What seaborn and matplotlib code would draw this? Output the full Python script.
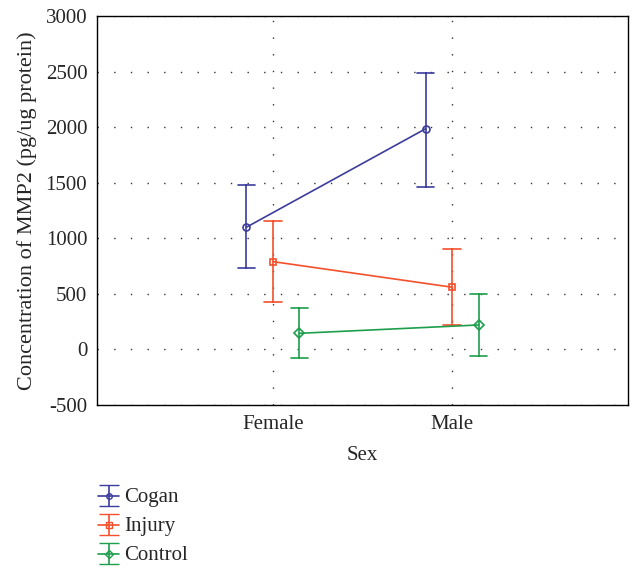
import numpy as np
import pandas as pd
import seaborn as sns
import matplotlib.pyplot as plt

# data
sexes = ['Female', 'Male']
groups = ['Cogan', 'Injury', 'Control']
mean_cogan = [1100, 1985]
low_cogan = [735, 1460]
high_cogan = [1480, 2490]
mean_injury = [790, 560]
low_injury = [430, 220]
high_injury = [1155, 900]
mean_control = [145, 220]
low_control = [-75, -60]
high_control = [375, 500]

colors = ['#3c3c9c', '#f4502c', '#1d9e4c']

# long table: low / mean / high per cell, median -> mean, min-max -> error bar
rows = []
for g, m, lo, hi in [('Cogan', mean_cogan, low_cogan, high_cogan),
                     ('Injury', mean_injury, low_injury, high_injury),
                     ('Control', mean_control, low_control, high_control)]:
    for i, s in enumerate(sexes):
        for v in (lo[i], m[i], hi[i]):
            rows.append({'Sex': s, 'group': g, 'value': v})
df = pd.DataFrame(rows)

sns.set_style('white')
plt.rcParams['font.family'] = ['Liberation Serif', 'DejaVu Serif']
plt.rcParams['axes.unicode_minus'] = False

fig = plt.figure(figsize=(6.34, 5.67), dpi=100)
ax = fig.add_axes([97 / 634, 1 - 405 / 567, 531 / 634, 389 / 567])

sns.pointplot(data=df, x='Sex', y='value', hue='group', hue_order=groups,
              order=sexes, palette=colors, estimator=np.median,
              errorbar=lambda v: (v.min(), v.max()), dodge=0.296,
              markers=['o', 's', 'D'], capsize=0.1, err_kws={'linewidth': 1.2},
              linewidth=1.2, markersize=5, ax=ax, legend=False)

for line in ax.lines:
    line.set_markerfacecolor('none')
    line.set_markeredgewidth(1.2)

ax.set_xlim(-0.983, 1.983)
ax.set_ylim(-500, 3000)
ax.set_yticks(np.arange(-500, 3001, 500))
ax.set_xlabel('Sex', fontsize=15, labelpad=9)
ax.set_ylabel('Concentration of MMP2 (pg/ug protein)', fontsize=16, labelpad=6)
ax.tick_params(length=0, labelsize=15, pad=7)
ax.grid(True, linestyle=(0, (1, 11)), color='#333333', linewidth=1)
for sp in ax.spines.values():
    sp.set_visible(True)
    sp.set_color('black')
    sp.set_linewidth(1)

# legend with error-bar glyphs
handles = []
for g, c, mk in zip(groups, colors, ['o', 's', 'D']):
    h = ax.errorbar([np.nan], [np.nan], yerr=[1], color=c, marker=mk,
                    mfc='none', markersize=4, capsize=7, linewidth=1.2)
    handles.append(h)
fig.legend(handles, groups, loc='upper left', bbox_to_anchor=(88 / 634, 1 - 478 / 567),
           frameon=False, fontsize=15, handlelength=1.0, labelspacing=0.48,
           handletextpad=0.25, borderpad=0, handleheight=0.45)

fig.savefig('out.png', dpi=100)
